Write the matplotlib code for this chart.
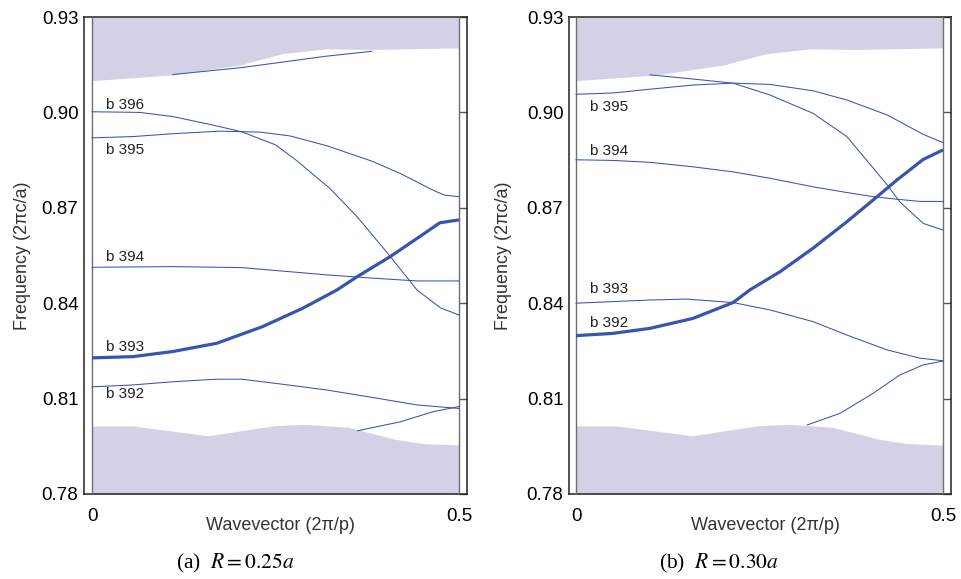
import matplotlib
matplotlib.use("Agg")
import matplotlib.pyplot as plt

plt.rcParams['font.family'] = ['Liberation Sans', 'DejaVu Sans']
plt.rcParams['mathtext.fontset'] = 'stix'

# ---------------- data ----------------
yticks = [0.78, 0.81, 0.84, 0.87, 0.90, 0.93]
ytick_labels = ["0.78", "0.81", "0.84", "0.87", "0.90", "0.93"]
xticks = [0, 0.5]
xtick_labels = ["0", "0.5"]

# light-cone bands (same in both panels)
k_band_up = [0, 0.11, 0.204, 0.21, 0.26, 0.32, 0.38, 0.5]
f_band_up = [0.910, 0.9118, 0.9150, 0.9155, 0.9185, 0.9200, 0.9198, 0.9203]
k_band_lo = [0, 0.056, 0.158, 0.249, 0.290, 0.349, 0.413, 0.450, 0.5]
f_band_lo = [0.8014, 0.8014, 0.7983, 0.8015, 0.8019, 0.8010, 0.7972, 0.7959, 0.7954]

# panel (a) R = 0.25a
a_top_k = [0.110, 0.204, 0.320, 0.381]
a_top_f = [0.9119, 0.9141, 0.9177, 0.9192]
a_b396_k = [0, 0.065, 0.11, 0.165, 0.204, 0.25, 0.278, 0.324, 0.36, 0.406, 0.443, 0.475, 0.5]
a_b396_f = [0.9002, 0.9000, 0.8987, 0.8960, 0.8939, 0.8898, 0.8850, 0.8761, 0.8675, 0.8548, 0.8441, 0.8385, 0.8363]
a_b395_k = [0, 0.056, 0.110, 0.174, 0.229, 0.270, 0.320, 0.381, 0.420, 0.465, 0.480, 0.5]
a_b395_f = [0.8920, 0.8924, 0.8933, 0.8941, 0.8938, 0.8926, 0.8895, 0.8847, 0.8808, 0.8755, 0.8740, 0.8735]
a_b394_k = [0, 0.110, 0.204, 0.320, 0.381, 0.443, 0.5]
a_b394_f = [0.8513, 0.8515, 0.8512, 0.8489, 0.8479, 0.8470, 0.8470]
a_b393_k = [0, 0.056, 0.110, 0.170, 0.232, 0.287, 0.334, 0.361, 0.406, 0.443, 0.474, 0.5]
a_b393_f = [0.8228, 0.8232, 0.8248, 0.8274, 0.8326, 0.8384, 0.8442, 0.8483, 0.8546, 0.8604, 0.8653, 0.8662]
a_b392_k = [0, 0.056, 0.110, 0.170, 0.204, 0.260, 0.320, 0.381, 0.443, 0.5]
a_b392_f = [0.8137, 0.8143, 0.8153, 0.8161, 0.8161, 0.8145, 0.8127, 0.8104, 0.8080, 0.8069]
a_low_k = [0.362, 0.420, 0.465, 0.5]
a_low_f = [0.7999, 0.8027, 0.8059, 0.8075]

# panel (b) R = 0.30a
b_top_k = [0.101, 0.159, 0.214, 0.264, 0.323, 0.369, 0.424, 0.441, 0.473, 0.5]
b_top_f = [0.9118, 0.9105, 0.9092, 0.9055, 0.8997, 0.8924, 0.8772, 0.8719, 0.8651, 0.8630]
b_b395_k = [0, 0.050, 0.101, 0.159, 0.214, 0.264, 0.323, 0.369, 0.424, 0.473, 0.5]
b_b395_f = [0.9057, 0.9061, 0.9073, 0.9086, 0.9092, 0.9088, 0.9068, 0.9039, 0.8992, 0.8931, 0.8905]
b_b394_k = [0, 0.050, 0.101, 0.159, 0.214, 0.264, 0.323, 0.369, 0.405, 0.437, 0.469, 0.5]
b_b394_f = [0.8851, 0.8849, 0.8843, 0.8829, 0.8813, 0.8793, 0.8766, 0.8748, 0.8735, 0.8727, 0.8720, 0.8720]
b_thick_k = [0, 0.050, 0.101, 0.159, 0.214, 0.237, 0.278, 0.323, 0.369, 0.405, 0.437, 0.473, 0.5]
b_thick_f = [0.8298, 0.8305, 0.8321, 0.8352, 0.8402, 0.8442, 0.8499, 0.8573, 0.8656, 0.8725, 0.8787, 0.8852, 0.8882]
b_b393_k = [0, 0.050, 0.101, 0.151, 0.214, 0.264, 0.323, 0.369, 0.424, 0.469, 0.5]
b_b393_f = [0.8400, 0.8405, 0.8410, 0.8413, 0.8402, 0.8379, 0.8342, 0.8300, 0.8253, 0.8227, 0.8219]
b_low_k = [0.315, 0.360, 0.405, 0.441, 0.473, 0.5]
b_low_f = [0.8017, 0.8054, 0.8117, 0.8174, 0.8206, 0.8218]

a_labels = ["b 396", "b 395", "b 394", "b 393", "b 392"]
a_label_f = [0.9024, 0.8882, 0.8546, 0.8261, 0.8114]
b_labels = ["b 395", "b 394", "b 393", "b 392"]
b_label_f = [0.9018, 0.8880, 0.8445, 0.8337]
label_k = 0.019

captions = [r"(a)  $R = 0.25a$", r"(b)  $R = 0.30a$"]

# ---------------- style ----------------
LINE = "#3a53ad"
FILL = "#d3d1e5"
thin = 0.75
thick = 2.3

fig = plt.figure(figsize=(9.61, 5.79), dpi=100)
ax_a = fig.add_axes([84/961, 1-494/579, 383/961, 477/579])
ax_b = fig.add_axes([569/961, 1-494/579, 382/961, 477/579])


def setup(ax, xl, ylabel_x):
    ax.set_xlim(*xl)
    ax.set_ylim(0.78, 0.93)
    ax.fill_between(k_band_up, f_band_up, 0.93, color=FILL, lw=0, zorder=1)
    ax.fill_between(k_band_lo, 0.78, f_band_lo, color=FILL, lw=0, zorder=1)
    ax.axvline(0, color="#6f6f6f", lw=1.0, zorder=3)
    ax.axvline(0.5, color="#6f6f6f", lw=1.0, zorder=3)
    for s in ax.spines.values():
        s.set_color("#222222")
        s.set_linewidth(1.1)
    ax.set_yticks(yticks)
    ax.set_yticklabels(ytick_labels)
    ax.set_xticks(xticks)
    ax.set_xticklabels(xtick_labels)
    ax.tick_params(axis='y', direction='in', left=False, right=True, length=5.5,
                   width=1.0, color="#555555", pad=4, labelsize=13.5)
    ax.tick_params(axis='x', length=0, pad=10, labelsize=13.5)
    ax.set_xlabel("Wavevector (2\u03c0/p)", fontsize=13, color="#333333")
    ax.xaxis.set_label_coords(0.514, -0.048)
    ax.set_ylabel("Frequency (2\u03c0c/a)", fontsize=13, color="#333333")
    ax.yaxis.set_label_coords(ylabel_x, 0.5)


setup(ax_a, (-8/734, 0.5 + 8/734), -0.139)
setup(ax_b, (-7/734, 0.5 + 8/734), -0.149)

for k, f in [(a_top_k, a_top_f), (a_b396_k, a_b396_f), (a_b395_k, a_b395_f),
             (a_b394_k, a_b394_f), (a_b392_k, a_b392_f), (a_low_k, a_low_f)]:
    ax_a.plot(k, f, color=LINE, lw=thin, zorder=4)
ax_a.plot(a_b393_k, a_b393_f, color=LINE, lw=thick, zorder=5, solid_capstyle='butt')

for k, f in [(b_top_k, b_top_f), (b_b395_k, b_b395_f), (b_b394_k, b_b394_f),
             (b_b393_k, b_b393_f), (b_low_k, b_low_f)]:
    ax_b.plot(k, f, color=LINE, lw=thin, zorder=4)
ax_b.plot(b_thick_k, b_thick_f, color=LINE, lw=thick, zorder=5, solid_capstyle='butt')

for t, f in zip(a_labels, a_label_f):
    ax_a.text(label_k, f, t, fontsize=11, color="#222222", ha='left', va='center', zorder=6)
for t, f in zip(b_labels, b_label_f):
    ax_b.text(label_k, f, t, fontsize=11, color="#222222", ha='left', va='center', zorder=6)

fig.text(235.5/961, 1-563/579, captions[0], fontsize=15.5, ha='center', va='center',
         family='Liberation Serif')
fig.text(719/961, 1-563/579, captions[1], fontsize=15.5, ha='center', va='center',
         family='Liberation Serif')

fig.savefig("out.png", dpi=100)
